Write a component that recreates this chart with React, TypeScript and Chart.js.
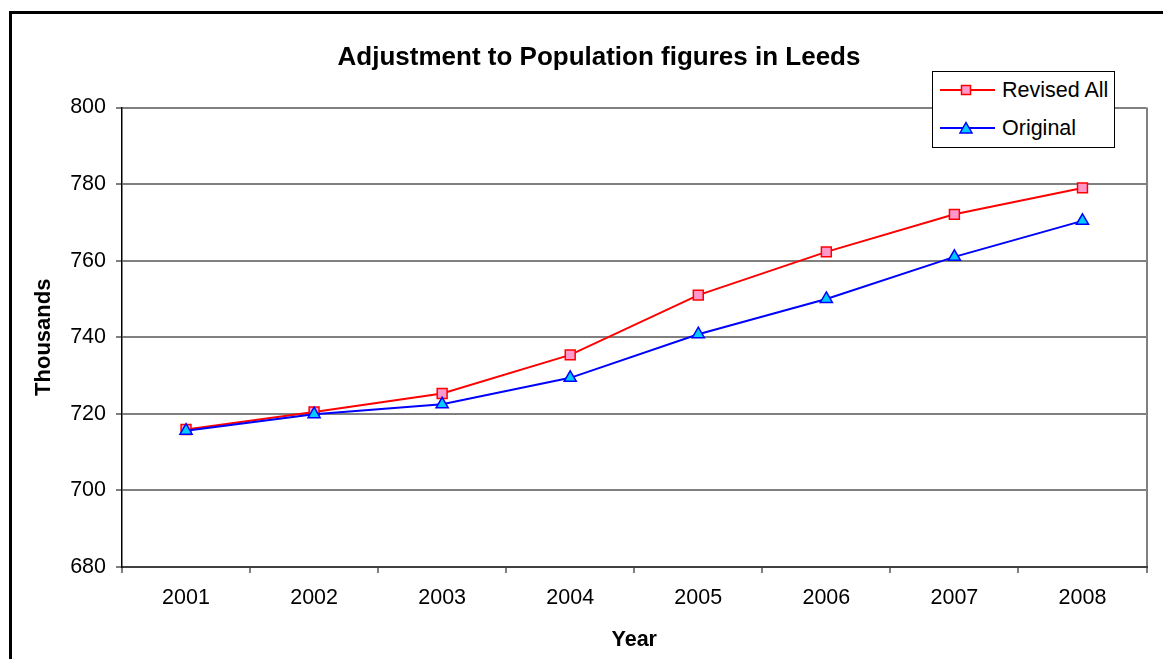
import React, { useEffect, useRef } from 'react';
import { Chart, registerables } from 'chart.js';

Chart.register(...registerables);

// ---- data ----
const years = ['2001', '2002', '2003', '2004', '2005', '2006', '2007', '2008'];
const revisedAll = [715.9, 720.5, 725.3, 735.4, 751.0, 762.3, 772.1, 779.0];
const original = [715.6, 719.9, 722.5, 729.4, 740.8, 750.0, 761.0, 770.4];
const seriesNames = ['Revised All', 'Original'];
const yMin = 680;
const yMax = 800;
const yStep = 20;
const chartTitle = 'Adjustment to Population figures in Leeds';
const xTitle = 'Year';
const yTitle = 'Thousands';

// ---- styles ----
const FONT = '"Liberation Sans", Arial, Helvetica, sans-serif';
const RED = '#FF0000';
const PINK = '#FF99CC';
const BLUE = '#0000FF';
const CYAN = '#00CCFF';
const GRID = '#808080';

export default function App() {
  const ref = useRef<HTMLCanvasElement>(null);

  useEffect(() => {
    const canvas = ref.current;
    if (!canvas) return;
    const chart = new Chart(canvas, {
      type: 'line',
      data: {
        labels: years,
        datasets: [
          {
            label: seriesNames[0],
            data: revisedAll,
            borderColor: RED,
            borderWidth: 2,
            pointStyle: 'rect',
            pointRadius: 7,
            pointBackgroundColor: PINK,
            pointBorderColor: RED,
            pointBorderWidth: 1.5,
            tension: 0,
            fill: false,
            order: 1,
          },
          {
            label: seriesNames[1],
            data: original,
            borderColor: BLUE,
            borderWidth: 2,
            pointStyle: 'triangle',
            pointRadius: 7,
            pointBackgroundColor: CYAN,
            pointBorderColor: BLUE,
            pointBorderWidth: 1.5,
            tension: 0,
            fill: false,
            order: 0,
          },
        ],
      },
      options: {
        responsive: false,
        animation: false,
        events: [],
        layout: { padding: { left: 51.5, right: 16.5, top: 0, bottom: 0 } },
        plugins: {
          legend: { display: false },
          tooltip: { enabled: false },
          title: {
            display: true,
            text: chartTitle,
            color: '#000',
            font: { family: FONT, size: 26, weight: 'bold', lineHeight: 1.2 },
            padding: { top: 42.4, bottom: 33.9 },
          },
        },
        scales: {
          x: {
            type: 'category',
            offset: true,
            grid: {
              display: true,
              drawOnChartArea: true,
              offset: true,
              color: (ctx: any) => (ctx.type === 'tick' ? 'rgba(0,0,0,0)' : GRID),
              lineWidth: 2,
              drawTicks: true,
              tickLength: 6,
              tickColor: '#000',
              tickWidth: 1,
            },
            border: { display: true, color: '#404040', width: 2 },
            ticks: {
              color: '#000',
              font: { family: FONT, size: 21.5 },
              padding: 12,
              maxRotation: 0,
              autoSkip: false,
            },
            title: {
              display: true,
              text: xTitle,
              color: '#000',
              font: { family: FONT, size: 21.5, weight: 'bold', lineHeight: 1.2 },
              padding: { top: 0, bottom: 6 },
            },
            afterFit: (s: any) => {
              s.height = 92;
            },
          },
          y: {
            min: yMin,
            max: yMax,
            ticks: {
              stepSize: yStep,
              color: '#000',
              font: { family: FONT, size: 21.5 },
              padding: 10,
            },
            grid: {
              color: (ctx: any) =>
                ctx.tick && ctx.tick.value === yMin ? 'rgba(0,0,0,0)' : GRID,
              lineWidth: 2,
              drawTicks: true,
              tickLength: 6,
              tickColor: '#000',
              tickWidth: 1,
            },
            border: { display: true, color: '#000', width: 1.5 },
            title: {
              display: true,
              text: yTitle,
              color: '#000',
              font: { family: FONT, size: 22, weight: 'bold', lineHeight: 1.2 },
              padding: { top: -21.2, bottom: 0 },
            },
            afterFit: (s: any) => {
              s.width = 70.5;
            },
          },
        },
      },
    } as any);
    return () => chart.destroy();
  }, []);

  const legendRow = (top: number, kind: 'rect' | 'triangle', label: string) => (
    <div
      style={{
        position: 'absolute',
        left: 0,
        top,
        height: 26,
        width: 181,
        display: 'flex',
        alignItems: 'center',
      }}
    >
      <svg width={56} height={16} style={{ position: 'absolute', left: 7, top: 5 }}>
        <line x1={0} y1={8} x2={55} y2={8} stroke={kind === 'rect' ? RED : BLUE} strokeWidth={2} />
        {kind === 'rect' ? (
          <rect x={21.5} y={3.5} width={9} height={9} fill={PINK} stroke={RED} strokeWidth={1.5} />
        ) : (
          <polygon points="26,2.5 32,13 20,13" fill={CYAN} stroke={BLUE} strokeWidth={1.5} />
        )}
      </svg>
      <span
        style={{
          position: 'absolute',
          left: 69,
          fontFamily: FONT,
          fontSize: 21.5,
          lineHeight: '26px',
          color: '#000',
          whiteSpace: 'nowrap',
        }}
      >
        {label}
      </span>
    </div>
  );

  return (
    <div
      style={{
        position: 'absolute',
        left: 0,
        top: 0,
        width: 1163,
        height: 659,
        overflow: 'hidden',
        background: '#fff',
      }}
    >
      <div
        style={{
          position: 'absolute',
          left: 9,
          top: 11,
          width: 1300,
          height: 800,
          border: '3px solid #000',
          boxSizing: 'border-box',
        }}
      />
      <canvas
        ref={ref}
        width={1163}
        height={659}
        style={{ position: 'absolute', left: 0, top: 0, width: 1163, height: 659 }}
      />
      <div
        style={{
          position: 'absolute',
          left: 932,
          top: 71,
          width: 183,
          height: 77,
          border: '1px solid #000',
          boxSizing: 'border-box',
          background: '#fff',
        }}
      >
        {legendRow(5, 'rect', seriesNames[0])}
        {legendRow(43, 'triangle', seriesNames[1])}
      </div>
    </div>
  );
}
